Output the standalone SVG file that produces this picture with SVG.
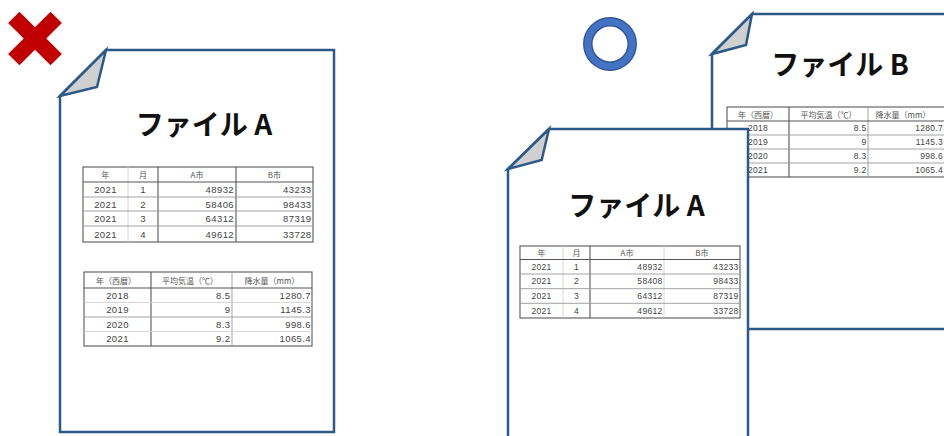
<svg xmlns="http://www.w3.org/2000/svg" width="944" height="436" viewBox="0 0 944 436">
<style>
.doc{fill:#fff;stroke:#2c5a88;stroke-width:2.5;stroke-linejoin:miter}
.fold{fill:#d0d0d0;stroke:#2c5a88;stroke-width:2.5;stroke-linejoin:miter}
.title{font-family:"Noto Sans CJK JP","Noto Sans",sans-serif;font-weight:bold;font-size:28px;fill:#111;text-anchor:middle}
.t{font-family:"Liberation Sans","Noto Sans CJK JP",sans-serif;font-size:9.5px;fill:#444;dominant-baseline:central;letter-spacing:0.4px}
.ts{font-family:"Liberation Sans","Noto Sans CJK JP",sans-serif;font-size:8.5px;fill:#444;dominant-baseline:central;letter-spacing:0.3px}
.h{font-family:"Noto Sans CJK JP",sans-serif;font-size:8px;fill:#555;dominant-baseline:central;text-anchor:middle}
.c{text-anchor:middle}
.r{text-anchor:end}
.ob{fill:#fff;stroke:#666;stroke-width:1.2}
.dk{stroke:#555;stroke-width:1.1}
.md{stroke:#999;stroke-width:0.9}
.lt{stroke:#d4d4d4;stroke-width:0.9}
</style>

<g id="mark-wrong">
<g transform="translate(35,38.5) rotate(45)" fill="#c00000">
<rect x="-30" y="-8" width="60" height="16"/>
<rect x="-8" y="-30" width="16" height="60"/>
</g>
</g>

<g id="mark-right">
<circle cx="610" cy="44" r="22.2" fill="none" stroke="#2f528f" stroke-width="9.5"/>
<circle cx="610" cy="44" r="22.2" fill="none" stroke="#4472c4" stroke-width="7"/>
</g>

<g id="file-a-left">
<path class="doc" d="M60,96 L106,50 L334,50 L334,432 L60,432 Z"/>
<path class="fold" d="M60,96 L106,50 L97,87 Z"/>
<text class="title" x="204" y="135">ファイル A</text>
<g id="left-table-1">
<rect class="ob" x="83" y="167" width="230" height="75"/>
<line class="lt" x1="128" y1="167" x2="128" y2="242"/>
<line class="dk" x1="158" y1="167" x2="158" y2="242"/>
<line class="dk" x1="236" y1="167" x2="236" y2="242"/>
<line class="dk" x1="83" y1="182" x2="313" y2="182"/>
<line class="md" x1="83" y1="197" x2="313" y2="197"/>
<line class="md" x1="83" y1="211" x2="313" y2="211"/>
<line class="md" x1="83" y1="226" x2="313" y2="226"/>
<text class="h" x="105.5" y="174.5">年</text>
<text class="h" x="143" y="174.5">月</text>
<text class="h" x="197" y="174.5">A市</text>
<text class="h" x="274.5" y="174.5">B市</text>
<text class="t c" x="105.5" y="189.5">2021</text><text class="t c" x="143" y="189.5">1</text><text class="t r" x="234" y="189.5">48932</text><text class="t r" x="311.5" y="189.5">43233</text>
<text class="t c" x="105.5" y="204">2021</text><text class="t c" x="143" y="204">2</text><text class="t r" x="234" y="204">58406</text><text class="t r" x="311.5" y="204">98433</text>
<text class="t c" x="105.5" y="218.5">2021</text><text class="t c" x="143" y="218.5">3</text><text class="t r" x="234" y="218.5">64312</text><text class="t r" x="311.5" y="218.5">87319</text>
<text class="t c" x="105.5" y="234">2021</text><text class="t c" x="143" y="234">4</text><text class="t r" x="234" y="234">49612</text><text class="t r" x="311.5" y="234">33728</text>
</g>
<g id="left-table-2">
<rect class="ob" x="84" y="272" width="228" height="74"/>
<line class="dk" x1="151" y1="272" x2="151" y2="346"/>
<line class="md" x1="232" y1="272" x2="232" y2="346"/>
<line class="dk" x1="84" y1="288" x2="312" y2="288"/>
<line class="lt" x1="84" y1="302.5" x2="312" y2="302.5"/>
<line class="md" x1="84" y1="317" x2="312" y2="317"/>
<line class="lt" x1="84" y1="331.5" x2="312" y2="331.5"/>
<text class="h" x="116" y="280">年（西暦）</text>
<text class="h" x="190" y="280">平均気温（℃）</text>
<text class="h" x="272" y="280">降水量（mm）</text>
<text class="t c" x="117.5" y="295">2018</text><text class="t r" x="230.5" y="295">8.5</text><text class="t r" x="311" y="295">1280.7</text>
<text class="t c" x="117.5" y="309.5">2019</text><text class="t r" x="230.5" y="309.5">9</text><text class="t r" x="311" y="309.5">1145.3</text>
<text class="t c" x="117.5" y="324">2020</text><text class="t r" x="230.5" y="324">8.3</text><text class="t r" x="311" y="324">998.6</text>
<text class="t c" x="117.5" y="338.5">2021</text><text class="t r" x="230.5" y="338.5">9.2</text><text class="t r" x="311" y="338.5">1065.4</text>
</g>
</g>

<g id="file-b">
<path class="doc" d="M712,54 L752,14 L950,14 L950,329 L712,329 Z"/>
<path class="fold" d="M712,54 L752,14 L746,45 Z"/>
<text class="title" x="840" y="75">ファイル B</text>
<g id="file-b-table">
<rect class="ob" x="727" y="107" width="230" height="70"/>
<line class="dk" x1="789" y1="107" x2="789" y2="177"/>
<line class="md" x1="868" y1="107" x2="868" y2="177"/>
<line class="dk" x1="727" y1="121" x2="950" y2="121"/>
<line class="md" x1="727" y1="135" x2="950" y2="135"/>
<line class="md" x1="727" y1="149" x2="950" y2="149"/>
<line class="md" x1="727" y1="163" x2="950" y2="163"/>
<text class="h" x="758" y="114">年（西暦）</text>
<text class="h" x="828.5" y="114">平均気温（℃）</text>
<text class="h" x="903" y="114">降水量（mm）</text>
<text class="ts c" x="758" y="128">2018</text><text class="ts r" x="866.5" y="128">8.5</text><text class="ts r" x="943" y="128">1280.7</text>
<text class="ts c" x="758" y="142">2019</text><text class="ts r" x="866.5" y="142">9</text><text class="ts r" x="943" y="142">1145.3</text>
<text class="ts c" x="758" y="156">2020</text><text class="ts r" x="866.5" y="156">8.3</text><text class="ts r" x="943" y="156">998.6</text>
<text class="ts c" x="758" y="170">2021</text><text class="ts r" x="866.5" y="170">9.2</text><text class="ts r" x="943" y="170">1065.4</text>
</g>
</g>

<g id="file-a-right">
<path class="doc" d="M508,169 L549,129 L748,129 L748,450 L508,450 Z"/>
<path class="fold" d="M508,169 L549,129 L541.7,160 Z"/>
<text class="title" x="636.5" y="216">ファイル A</text>
<g id="right-table">
<rect class="ob" x="520" y="246" width="220" height="72"/>
<line class="lt" x1="563" y1="246" x2="563" y2="318"/>
<line class="dk" x1="590" y1="246" x2="590" y2="318"/>
<line class="lt" x1="664" y1="246" x2="664" y2="318"/>
<line class="dk" x1="520" y1="259.5" x2="740" y2="259.5"/>
<line class="md" x1="520" y1="274" x2="740" y2="274"/>
<line class="md" x1="520" y1="288.7" x2="740" y2="288.7"/>
<line class="md" x1="520" y1="303.3" x2="740" y2="303.3"/>
<text class="h" x="541.5" y="252.7">年</text>
<text class="h" x="576.5" y="252.7">月</text>
<text class="h" x="627" y="252.7">A市</text>
<text class="h" x="702" y="252.7">B市</text>
<text class="ts c" x="541.5" y="266.7">2021</text><text class="ts c" x="576.5" y="266.7">1</text><text class="ts r" x="662.5" y="266.7">48932</text><text class="ts r" x="738.5" y="266.7">43233</text>
<text class="ts c" x="541.5" y="281.3">2021</text><text class="ts c" x="576.5" y="281.3">2</text><text class="ts r" x="662.5" y="281.3">58408</text><text class="ts r" x="738.5" y="281.3">98433</text>
<text class="ts c" x="541.5" y="296">2021</text><text class="ts c" x="576.5" y="296">3</text><text class="ts r" x="662.5" y="296">64312</text><text class="ts r" x="738.5" y="296">87319</text>
<text class="ts c" x="541.5" y="310.7">2021</text><text class="ts c" x="576.5" y="310.7">4</text><text class="ts r" x="662.5" y="310.7">49612</text><text class="ts r" x="738.5" y="310.7">33728</text>
</g>
</g>

<g id="connectors"/>
</svg>
